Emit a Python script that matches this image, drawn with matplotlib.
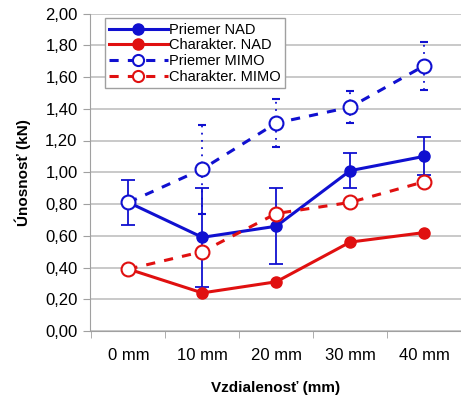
import matplotlib.pyplot as plt
from matplotlib.lines import Line2D

plt.rcParams["font.family"] = ["Liberation Sans", "DejaVu Sans"]

categories = ["0 mm", "10 mm", "20 mm", "30 mm", "40 mm"]
priemer_nad = [0.81, 0.59, 0.66, 1.01, 1.10]
priemer_nad_err = [0.14, 0.31, 0.24, 0.11, 0.12]
charakter_nad = [0.39, 0.24, 0.31, 0.56, 0.62]
priemer_mimo = [0.81, 1.02, 1.31, 1.41, 1.67]
priemer_mimo_err = [0.0, 0.28, 0.15, 0.10, 0.15]
charakter_mimo = [0.39, 0.50, 0.74, 0.81, 0.94]
y_ticks = [0.0, 0.2, 0.4, 0.6, 0.8, 1.0, 1.2, 1.4, 1.6, 1.8, 2.0]

blue = "#1010d0"
red = "#e01010"
dash = (0, (3, 3))

fig = plt.figure(figsize=(4.61, 3.95), dpi=100)
ax = fig.add_axes([90 / 461, 64 / 395, 1 - 90 / 461, 317.5 / 395])
x = list(range(len(categories)))

ax.errorbar(x, priemer_nad, yerr=priemer_nad_err, color=blue, lw=2.2,
            marker="o", ms=8, capsize=5, elinewidth=1.3, capthick=1.3,
            zorder=4)
ax.plot(x, charakter_nad, color=red, lw=2.2, marker="o", ms=8, zorder=4)
eb = ax.errorbar(x, priemer_mimo, yerr=priemer_mimo_err, color=blue, lw=2.2,
                 ls=dash, marker="o", ms=10, mfc="white", mew=1.5,
                 capsize=3, elinewidth=1.3, capthick=1.3, zorder=5)
for line in eb.lines[2]:
    line.set_linestyle((0, (1, 3)))
ax.plot(x, charakter_mimo, color=red, lw=2.2, ls=dash, marker="o",
        ms=10, mfc="white", mew=1.5, zorder=5)

ax.set_xlim(-0.52, 4.33)
ax.set_ylim(0, 2.0)
ax.set_yticks(y_ticks)
ax.set_yticklabels([f"{v:.2f}".replace(".", ",") for v in y_ticks])
ax.set_xticks(x)
ax.set_xticklabels(categories)
ax.set_xticks([i + 0.5 for i in range(-1, 5)], minor=True)
ax.tick_params(axis="x", which="major", length=0, pad=12, labelsize=12)
ax.tick_params(axis="x", which="minor", length=5, color="#a0a0a0")
ax.tick_params(axis="y", length=5, color="#a0a0a0", labelsize=12, pad=4)
ax.yaxis.grid(True, color="#c0c0c0", lw=1.2)
ax.set_axisbelow(True)
for side in ["top", "right"]:
    ax.spines[side].set_visible(False)
for side in ["left", "bottom"]:
    ax.spines[side].set_color("#a0a0a0")

ax.set_xlabel("Vzdialenosť (mm)", fontweight="bold", fontsize=11, labelpad=13)
ax.set_ylabel("Únosnosť (kN)", fontweight="bold", fontsize=11, labelpad=10)

handles = [
    Line2D([], [], color=blue, lw=2.2, marker="o", ms=8),
    Line2D([], [], color=red, lw=2.2, marker="o", ms=8),
    Line2D([], [], color=blue, lw=2.2, ls=dash, marker="o", ms=8,
           mfc="white", mew=1.5),
    Line2D([], [], color=red, lw=2.2, ls=dash, marker="o", ms=8,
           mfc="white", mew=1.5),
]
labels = ["Priemer NAD", "Charakter. NAD", "Priemer MIMO", "Charakter. MIMO"]
leg = ax.legend(handles, labels, loc="upper left",
                bbox_to_anchor=(0.04, 0.985), fontsize=10.5,
                handlelength=4.0, handletextpad=0.1, borderpad=0.3,
                labelspacing=0.12, fancybox=False, framealpha=1,
                borderaxespad=0)
leg.get_frame().set_edgecolor("#a0a0a0")

fig.savefig("out.png", dpi=100)
